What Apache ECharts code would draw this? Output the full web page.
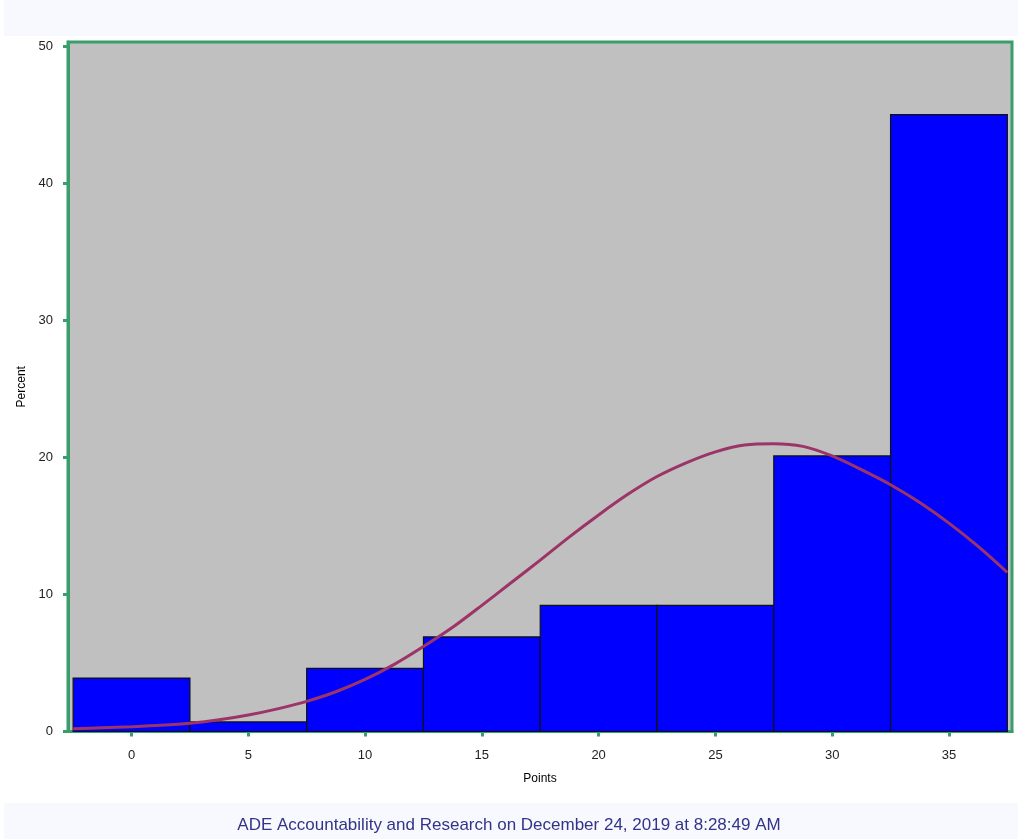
<!DOCTYPE html>
<html>
<head>
<meta charset="utf-8">
<script src="https://cdn.jsdelivr.net/npm/echarts@6/dist/echarts.min.js"></script>
<style>
  html, body { margin: 0; padding: 0; background: #ffffff; }
  #chart { width: 1018px; height: 839px; }
</style>
</head>
<body>
<div id="chart"></div>
<script>
// Histogram bins (bin centres, width 5 points) and the percent in each bin
const binCenters = [0, 5, 10, 15, 20, 25, 30, 35];
const binWidth = 5;
const binPercent = [3.9, 0.7, 4.6, 6.9, 9.2, 9.2, 20.1, 45.0];

// Fitted normal curve, sampled along the points axis
const curveX = [-2.5, -1.25, 0, 1.25, 2.5, 3.75, 5, 6.25, 7.5, 8.75, 10, 11.25, 12.5, 13.75,
  15, 16.25, 17.5, 18.75, 20, 21.25, 22.5, 23.75, 25, 26.25, 27.5, 28.75, 30, 31.25,
  32.5, 33.75, 35, 36.25, 37.5];
const curveY = [0.2, 0.27, 0.35, 0.45, 0.6, 0.85, 1.2, 1.65, 2.2, 2.9, 3.8, 4.9, 6.2, 7.6,
  9.2, 10.85, 12.5, 14.2, 15.8, 17.3, 18.6, 19.6, 20.4, 20.9, 21.0, 20.8, 20.1, 19.1,
  18.0, 16.7, 15.2, 13.5, 11.6];

// Axis ticks
const xTicks = [0, 5, 10, 15, 20, 25, 30, 35];
const yTicks = [0, 10, 20, 30, 40, 50];

const footerText = 'ADE Accountability and Research on December 24, 2019 at 8:28:49 AM';

const green = '#3a9d6c';
const font = 'Liberation Sans, Arial, sans-serif';

const histData = binCenters.map((c, i) => [c - binWidth / 2, c + binWidth / 2, binPercent[i]]);
const curveData = curveX.map((x, i) => [x, curveY[i]]);

const chart = echarts.init(document.getElementById('chart'), null, { renderer: 'canvas' });

chart.setOption({
  animation: false,
  backgroundColor: '#ffffff',
  grid: {
    left: 68, right: 6, top: 42, bottom: 107.5,
    show: true,
    backgroundColor: '#c0c0c0',
    borderColor: green,
    borderWidth: 3
  },
  xAxis: {
    type: 'value',
    min: -2.72,
    max: 37.7,
    interval: 5,
    name: 'Points',
    nameLocation: 'middle',
    nameGap: 41,
    nameTextStyle: { fontFamily: font, fontSize: 12, color: '#000' },
    axisLine: { show: true, onZero: false, lineStyle: { color: green, width: 3 } },
    axisTick: { show: true, inside: false, length: 5, lineStyle: { color: green, width: 3 },
      customValues: xTicks },
    axisLabel: { fontFamily: font, fontSize: 13, color: '#222', margin: 17,
      customValues: xTicks },
    splitLine: { show: false }
  },
  yAxis: {
    type: 'value',
    min: 0,
    max: 50.3,
    interval: 10,
    name: 'Percent',
    nameLocation: 'middle',
    nameGap: 39,
    nameRotate: 90,
    nameTextStyle: { fontFamily: font, fontSize: 12, color: '#000' },
    axisLine: { show: true, onZero: false, lineStyle: { color: green, width: 3 } },
    axisTick: { show: true, inside: false, length: 5, lineStyle: { color: green, width: 3 },
      customValues: yTicks },
    axisLabel: { fontFamily: font, fontSize: 13, color: '#222', margin: 15,
      customValues: yTicks, padding: [3, 0, 0, 0] },
    splitLine: { show: false }
  },
  series: [
    {
      type: 'custom',
      name: 'Percent',
      data: histData,
      encode: { x: [0, 1], y: 2 },
      z: 2,
      renderItem: function (params, api) {
        const p0 = api.coord([api.value(0), 0]);
        const p1 = api.coord([api.value(1), api.value(2)]);
        return {
          type: 'rect',
          shape: { x: p0[0], y: p1[1], width: p1[0] - p0[0], height: p0[1] - p1[1] },
          style: { fill: '#0000ff', stroke: '#111111', lineWidth: 1.2 }
        };
      }
    },
    {
      type: 'line',
      name: 'Normal',
      data: curveData,
      smooth: 0.3,
      symbol: 'none',
      z: 3,
      lineStyle: { color: '#9c3468', width: 3 }
    }
  ],
  graphic: [
    {
      type: 'rect',
      left: 4, top: 0,
      shape: { width: 1014, height: 36 },
      style: { fill: '#f8f9fe' },
      z: -10
    },
    {
      type: 'rect',
      left: 4, top: 803,
      shape: { width: 1014, height: 36 },
      style: { fill: '#f8f9fe' },
      z: -10
    },
    {
      type: 'text',
      left: 'center',
      top: 817,
      style: {
        text: footerText,
        font: '17px ' + font,
        fill: '#333388'
      }
    }
  ]
});
</script>
</body>
</html>
